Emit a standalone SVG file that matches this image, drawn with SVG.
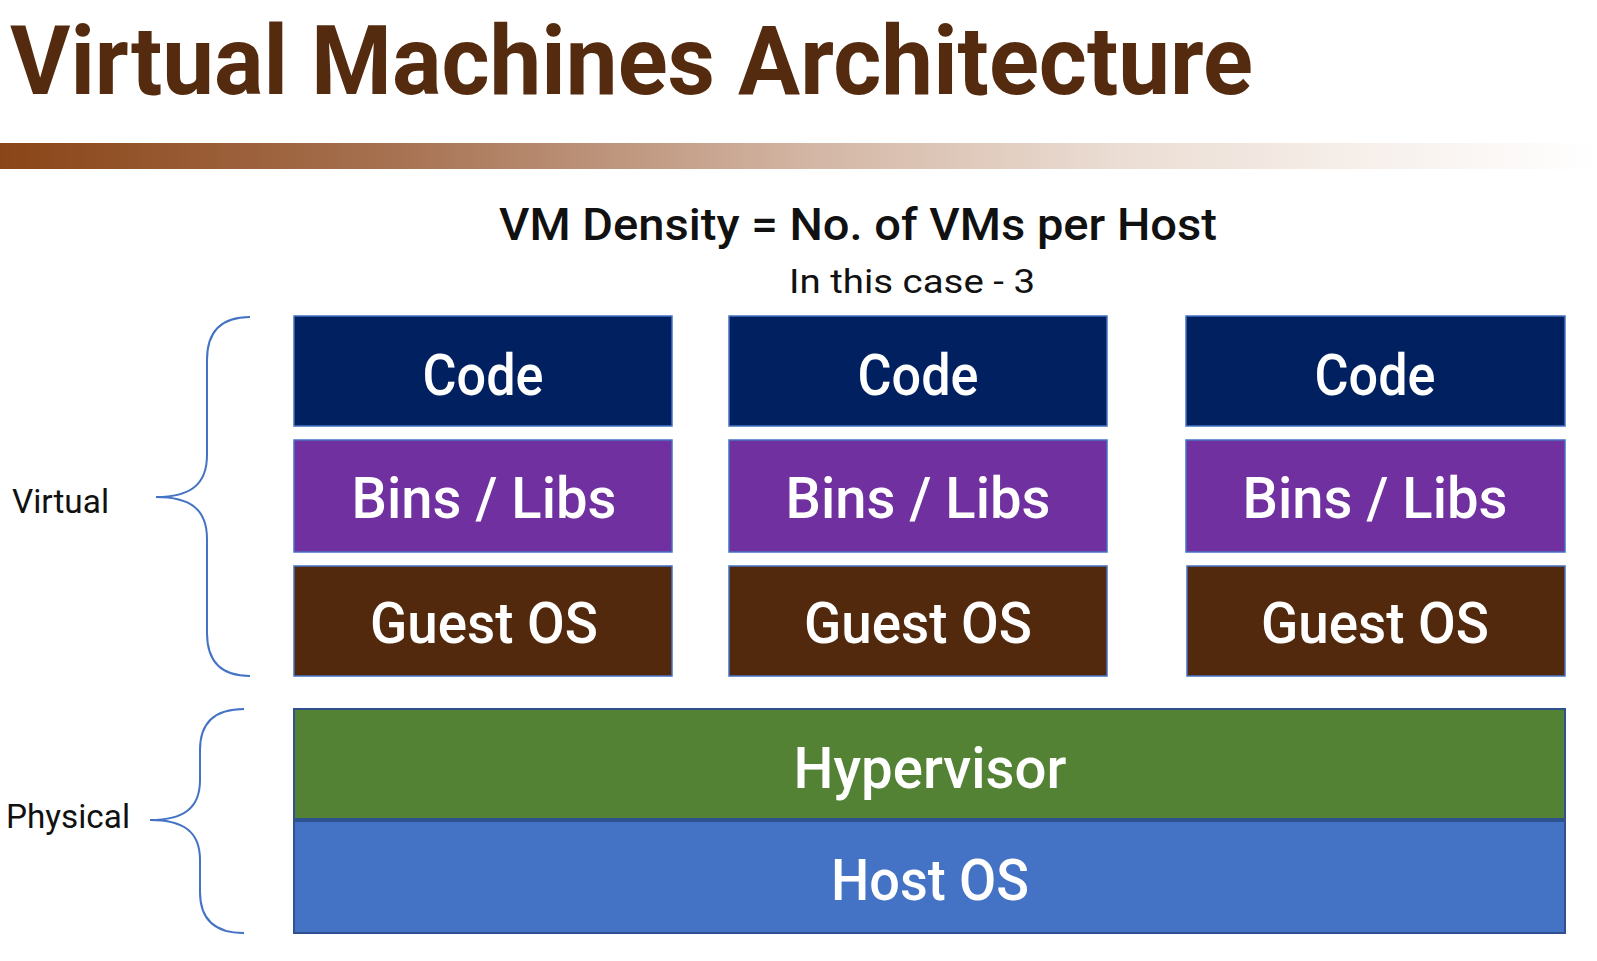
<svg xmlns="http://www.w3.org/2000/svg" width="1597" height="961" viewBox="0 0 1597 961">
<style>
.t{font-family:Roboto,"Liberation Sans",sans-serif}
.lbl{font-family:Roboto,"Liberation Sans",sans-serif;fill:#ffffff;font-size:57px;font-weight:500;text-anchor:middle}
.side{font-family:Roboto,"Liberation Sans",sans-serif;fill:#111111;font-size:33px;font-weight:400}
.brace{fill:none;stroke:#4472C4;stroke-width:2}
.code{fill:#002060;stroke:#4472C4;stroke-width:1.5}
.bins{fill:#7030A0;stroke:#4472C4;stroke-width:1.5}
.guest{fill:#52290C;stroke:#4472C4;stroke-width:1.5}
.hyp{fill:#548235;stroke:#2F528F;stroke-width:2}
.host{fill:#4472C4;stroke:#2F528F;stroke-width:2}
</style>
<defs>
<linearGradient id="bar" x1="0" y1="0" x2="1" y2="0">
<stop offset="0" stop-color="#8A4517"/>
<stop offset="0.25" stop-color="#A77252"/>
<stop offset="0.5" stop-color="#D2B4A2"/>
<stop offset="0.7" stop-color="#EBDDD3"/>
<stop offset="0.88" stop-color="#F8F2EE"/>
<stop offset="1" stop-color="#FFFFFF"/>
</linearGradient>
</defs>
<rect width="1597" height="961" fill="#ffffff"/>
<text class="t" x="10" y="94" font-size="96" font-weight="700" fill="#542B0F" textLength="1243" lengthAdjust="spacingAndGlyphs">Virtual Machines Architecture</text>
<rect x="0" y="143" width="1597" height="26" fill="url(#bar)"/>
<text class="t" x="858" y="240" font-size="45" font-weight="500" fill="#111111" text-anchor="middle" textLength="718" lengthAdjust="spacingAndGlyphs">VM Density = No. of VMs per Host</text>
<text class="t" x="912" y="293" font-size="34" font-weight="400" fill="#111111" text-anchor="middle" textLength="246" lengthAdjust="spacingAndGlyphs">In this case - 3</text>

<g id="vm1-code"><rect class="code" x="294" y="316" width="378" height="110"/><text class="lbl" x="483" y="395" textLength="121" lengthAdjust="spacingAndGlyphs">Code</text></g>
<g id="vm1-bins"><rect class="bins" x="294" y="440" width="378" height="112"/><text class="lbl" x="484" y="518" textLength="265" lengthAdjust="spacingAndGlyphs">Bins / Libs</text></g>
<g id="vm1-guest"><rect class="guest" x="294" y="566" width="378" height="110"/><text class="lbl" x="484" y="643" textLength="228" lengthAdjust="spacingAndGlyphs">Guest OS</text></g>

<g id="vm2-code"><rect class="code" x="729" y="316" width="378" height="110"/><text class="lbl" x="918" y="395" textLength="121" lengthAdjust="spacingAndGlyphs">Code</text></g>
<g id="vm2-bins"><rect class="bins" x="729" y="440" width="378" height="112"/><text class="lbl" x="918" y="518" textLength="265" lengthAdjust="spacingAndGlyphs">Bins / Libs</text></g>
<g id="vm2-guest"><rect class="guest" x="729" y="566" width="378" height="110"/><text class="lbl" x="918" y="643" textLength="228" lengthAdjust="spacingAndGlyphs">Guest OS</text></g>

<g id="vm3-code"><rect class="code" x="1186" y="316" width="379" height="110"/><text class="lbl" x="1375" y="395" textLength="121" lengthAdjust="spacingAndGlyphs">Code</text></g>
<g id="vm3-bins"><rect class="bins" x="1186" y="440" width="379" height="112"/><text class="lbl" x="1375" y="518" textLength="265" lengthAdjust="spacingAndGlyphs">Bins / Libs</text></g>
<g id="vm3-guest"><rect class="guest" x="1187" y="566" width="378" height="110"/><text class="lbl" x="1375" y="643" textLength="228" lengthAdjust="spacingAndGlyphs">Guest OS</text></g>

<g id="hypervisor"><rect class="hyp" x="294" y="709" width="1271" height="110"/><text class="lbl" x="930" y="788" textLength="273" lengthAdjust="spacingAndGlyphs">Hypervisor</text></g>
<g id="host-os"><rect class="host" x="294" y="821" width="1271" height="112"/><text class="lbl" x="930" y="900" textLength="198" lengthAdjust="spacingAndGlyphs">Host OS</text></g>

<g id="connectors">
<path class="brace" d="M250,317 C222,317 207,330 207,360 L207,455 C207,485 190,497 156,497 C190,497 207,509 207,539 L207,633 C207,663 222,676 250,676"/>
<path class="brace" d="M244,709 C216,709 200,722 200,750 L200,780 C200,808 184,820 150,820 C184,820 200,832 200,860 L200,892 C200,920 216,933 244,933"/>
</g>
<g id="label-virtual"><text class="side" x="12" y="513" textLength="97" lengthAdjust="spacingAndGlyphs">Virtual</text></g>
<g id="label-physical"><text class="side" x="6" y="828" textLength="124" lengthAdjust="spacingAndGlyphs">Physical</text></g>
</svg>
